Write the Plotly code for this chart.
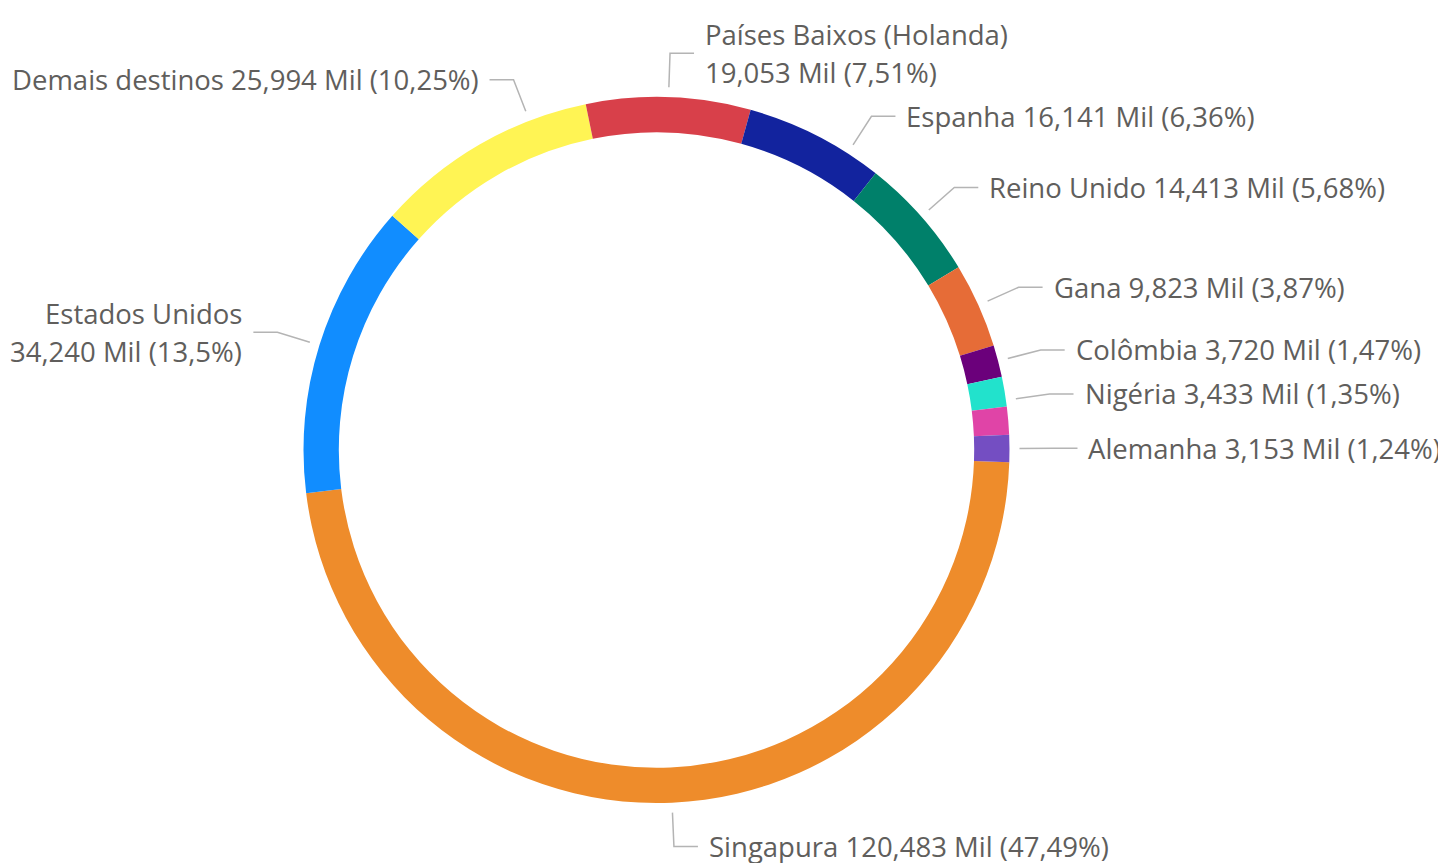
import math
import plotly.graph_objects as go

# ---------------- data ----------------
categories = ["Singapura", "Estados Unidos", "Demais destinos", "Países Baixos (Holanda)",
              "Espanha", "Reino Unido", "Gana", "Colômbia", "Nigéria", "Outro", "Alemanha"]
values = [120483, 34240, 25994, 19053, 16141, 14413, 9823, 3720, 3433, 3249, 3153]
colors = ["#EE8C2B", "#118DFF", "#FFF454", "#D8404A", "#12239E", "#00806A",
          "#E66C37", "#6B007B", "#22E2CC", "#E044A7", "#744EC2"]
wrapped = {"Países Baixos (Holanda)", "Estados Unidos"}

# ---------------- geometry / style ----------------
W, H = 1438, 863
CX, CY, R = 656.5, 450.0, 353.0
HOLE = 0.90
ROT = 92.0
LEAD_IN, ELBOW = R + 10, R + 44
HSEG, TGAP = 24, 9
LINE_H, PAD = 38, 6
CHAR_W = 13.3
MARGIN = 15
FONT = dict(family="Open Sans, Segoe UI, sans-serif", size=27.5, color="#605E5C")
LEADER = "#B4B4B4"

total = sum(values)


def fmt_val(v):
    return f"{v:,} Mil"


def fmt_pct(v):
    s = f"{100 * v / total:.2f}".rstrip("0").rstrip(".")
    return s.replace(".", ",") + "%"


def polar(theta, r):
    t = math.radians(theta)
    return CX + r * math.sin(t), CY - r * math.cos(t)


# slice angles (clockwise from top)
slices = []
cum = 0
for name, v in zip(categories, values):
    a0 = ROT + 360 * cum / total
    a1 = ROT + 360 * (cum + v) / total
    cum += v
    mid = ((a0 + a1) / 2) % 360
    lo, hi = a0 % 360, (a0 % 360) + (a1 - a0)
    if mid < lo:
        mid += 360
    lines = [name, f"{fmt_val(v)} ({fmt_pct(v)})"] if name in wrapped else \
        [f"{name} {fmt_val(v)} ({fmt_pct(v)})"]
    slices.append(dict(name=name, lo=lo, hi=hi, theta=mid, lines=lines, show=True))

labels = slices

# left side single-line labels: rotate toward vertical until text fits horizontally
for s in labels:
    th = s["theta"] % 360
    if th >= 180 and len(s["lines"]) == 1:
        width = len(s["lines"][0]) * CHAR_W
        step = 0.1 if th >= 270 else -0.1
        cur = s["theta"]
        while True:
            ex, _ = polar(cur, ELBOW)
            if ex - HSEG - TGAP - width >= MARGIN:
                break
            nxt = cur + step
            if not (s["lo"] <= nxt <= s["hi"]):
                break
            cur = nxt
        s["theta"] = cur

# right side: resolve vertical overlaps top to bottom, dropping labels pushed out of slice
right = sorted([s for s in labels if (s["theta"] % 360) < 180],
               key=lambda s: polar(s["theta"], ELBOW)[1])
prev = None
for s in right:
    ey = polar(s["theta"], ELBOW)[1]
    h = len(s["lines"]) * LINE_H
    if prev is not None:
        need = prev[0] + (prev[1] + h) / 2 + PAD
        if ey < need:
            c = (CY - need) / ELBOW
            c = max(-1.0, min(1.0, c))
            new_theta = math.degrees(math.acos(c))
            base = s["lo"] - (s["lo"] % 360)
            cand = new_theta + base
            if s["lo"] <= cand <= s["hi"]:
                s["theta"] = cand
                ey = need
            else:
                s["show"] = False
                continue
    prev = (ey, h)


def px(x):
    return x / W


def py(y):
    return 1 - y / H


fig = go.Figure(go.Pie(
    labels=categories, values=values, sort=False, direction="clockwise",
    rotation=ROT, hole=HOLE, textinfo="none",
    marker=dict(colors=colors, line=dict(width=0)),
    domain=dict(x=[px(CX - R), px(CX + R)], y=[py(CY + R), py(CY - R)]),
    showlegend=False,
))

shapes, annotations = [], []
for s in labels:
    if not s["show"] or s["name"] == "Outro":
        continue
    th = s["theta"]
    x0, y0 = polar(th, LEAD_IN)
    x1, y1 = polar(th, ELBOW)
    right_side = (th % 360) < 180
    x2 = x1 + HSEG if right_side else x1 - HSEG
    shapes.append(dict(type="path", xref="paper", yref="paper",
                       path=f"M {px(x0)},{py(y0)} L {px(x1)},{py(y1)} L {px(x2)},{py(y1)}",
                       line=dict(color=LEADER, width=1.5)))
    tx = x2 + TGAP if right_side else x2 - TGAP
    n = len(s["lines"])
    for i, line in enumerate(s["lines"]):
        ly = y1 + (i - (n - 1) / 2) * LINE_H
        annotations.append(dict(text=line, x=px(tx), y=py(ly), xref="paper", yref="paper",
                                xanchor="left" if right_side else "right", yanchor="middle",
                                showarrow=False, font=FONT))

fig.update_layout(width=W, height=H, margin=dict(l=0, r=0, t=0, b=0),
                  paper_bgcolor="white", plot_bgcolor="white",
                  shapes=shapes, annotations=annotations)
fig.write_html("out.html", config={"displayModeBar": False},
               post_script="document.body.style.margin='0px';")
